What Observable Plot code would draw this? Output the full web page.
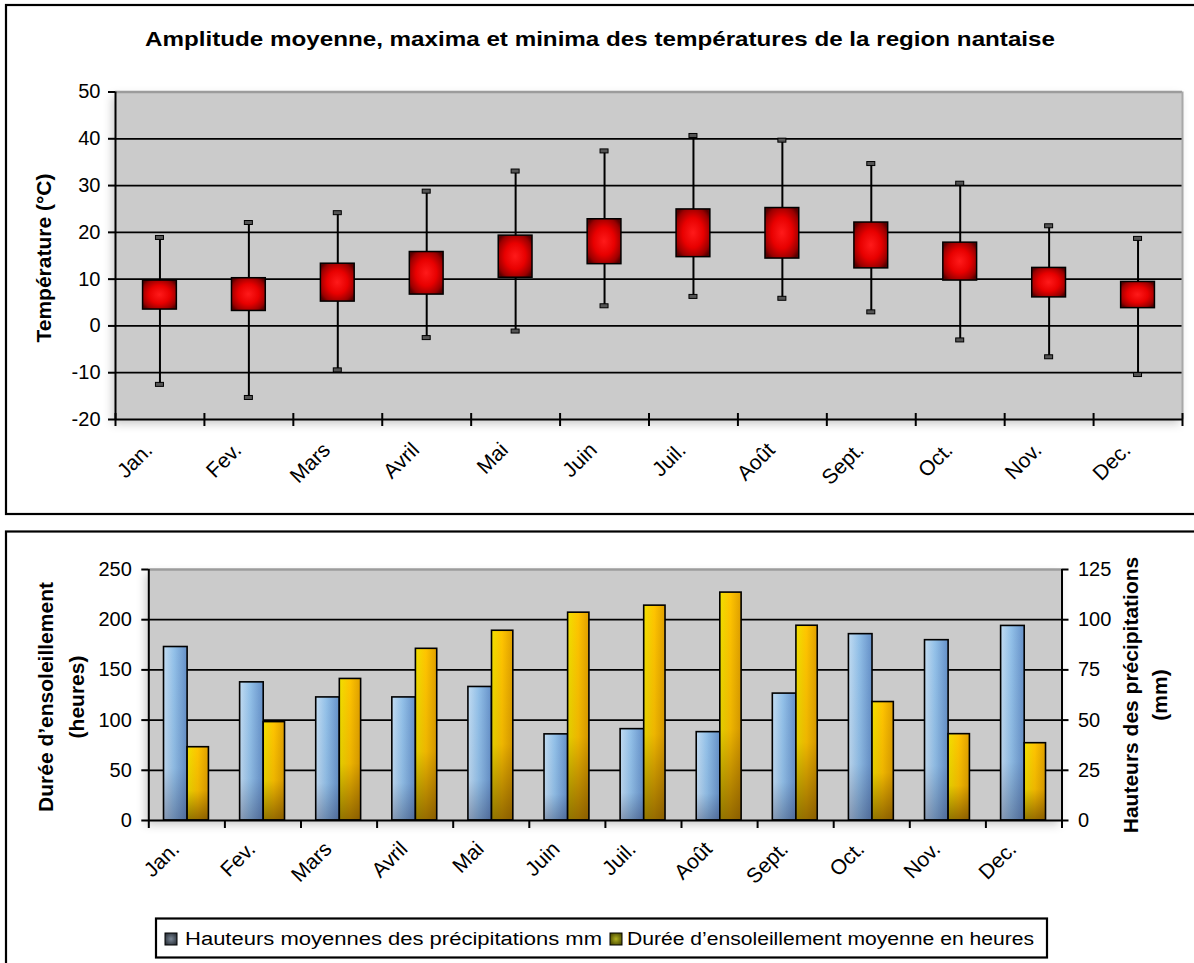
<!DOCTYPE html>
<html><head><meta charset="utf-8">
<script src="https://cdn.jsdelivr.net/npm/d3@7"></script>
<script src="https://cdn.jsdelivr.net/npm/@observablehq/plot@0.6"></script>
<style>
html,body{margin:0;padding:0;background:#fff;}
#wrap{position:relative;width:1194px;height:963px;overflow:hidden;font-family:"Liberation Sans",Arial,sans-serif;}
#wrap > svg{position:absolute;left:0;}
</style></head><body><div id="wrap"></div>
<script>
// ---- data ----
const months = ["Jan.","Fev.","Mars","Avril","Mai","Juin","Juil.","Août","Sept.","Oct.","Nov.","Dec."];
const tempMax = [18.8,22,24.1,28.7,33,37.3,40.6,39.6,34.6,30.4,21.3,18.6];
const tempMin = [-12.6,-15.4,-9.5,-2.6,-1.2,4.2,6.2,5.8,2.9,-3.1,-6.7,-10.5];
const boxHigh = [9.7,10.2,13.3,15.8,19.3,22.8,24.9,25.2,22.1,17.8,12.4,9.4];
const boxLow  = [3.5,3.2,5.2,6.7,10.3,13.2,14.7,14.4,12.3,9.7,6.1,3.8];
const tempTicks = [-20,-10,0,10,20,30,40,50];
const precipMm = [86.4,68.8,61.3,61.3,66.5,42.9,45.5,44,63.2,92.8,89.8,96.9];
const sunHours = [73,98,141,171,189,207,214,227,194,118,86,77];
const hourTicks = [0,50,100,150,200,250];
const mmTicks = [0,25,50,75,100,125];
const titleText = "Amplitude moyenne, maxima et minima des températures de la region nantaise";
const legendRain = "Hauteurs moyennes des précipitations mm";
const legendSun = "Durée d’ensoleillement moyenne en heures";

const hoursPerMm = hourTicks[hourTicks.length-1] / mmTicks[mmTicks.length-1];
const tempData = months.map((m,i)=>({i, m, max: tempMax[i], min: tempMin[i], hi: boxHigh[i], lo: boxLow[i]}));
const rainData = months.map((m,i)=>({i, m, mm: precipMm[i], h: sunHours[i]}));
const centers = months.map((m,i)=>i+0.5);
const bounds = d3.range(months.length+1);
const font = "'Liberation Sans', Arial, sans-serif";

const defs = `
<radialGradient id="redGrad" cx="50%" cy="50%" r="62%">
  <stop offset="0" stop-color="#ff1a1a"/><stop offset="0.5" stop-color="#e80000"/>
  <stop offset="0.85" stop-color="#9a0000"/><stop offset="1" stop-color="#5a0000"/>
</radialGradient>
<linearGradient id="blueGrad" x1="0" x2="1" y1="0" y2="0">
  <stop offset="0" stop-color="#c2dcf2"/><stop offset="0.45" stop-color="#92c0e8"/><stop offset="1" stop-color="#6590c8"/>
</linearGradient>
<linearGradient id="yellowGrad" x1="0" x2="1" y1="0" y2="0">
  <stop offset="0" stop-color="#f0e000"/><stop offset="0.5" stop-color="#ffc400"/><stop offset="1" stop-color="#e0a000"/>
</linearGradient>
<linearGradient id="blueShade" x1="0" x2="0" y1="0" y2="1">
  <stop offset="0" stop-color="#202040" stop-opacity="0"/><stop offset="0.7" stop-color="#202040" stop-opacity="0.05"/><stop offset="1" stop-color="#202040" stop-opacity="0.35"/>
</linearGradient>
<linearGradient id="yellowShade" x1="0" x2="0" y1="0" y2="1">
  <stop offset="0" stop-color="#503000" stop-opacity="0"/><stop offset="0.6" stop-color="#503000" stop-opacity="0.1"/><stop offset="1" stop-color="#503000" stop-opacity="0.6"/>
</linearGradient>
<radialGradient id="swRain" cx="50%" cy="50%" r="60%"><stop offset="0" stop-color="#7a8796"/><stop offset="1" stop-color="#2a3038"/></radialGradient>
<radialGradient id="swSun" cx="50%" cy="50%" r="60%"><stop offset="0" stop-color="#b0b020"/><stop offset="1" stop-color="#4a4a00"/></radialGradient>
`;
function finish(svg){
  d3.select(svg).insert("defs", ":first-child").html(defs);
  d3.select(svg).select('[aria-label="frame"]').style("filter","drop-shadow(-3px 4px 5px rgba(0,0,0,0.22))");
}

// ---- top chart ----
const topSvg = Plot.plot({
  width:1194, height:520, marginLeft:115, marginRight:12, marginTop:91.5, marginBottom:101,
  x:{domain:[0,12]}, y:{domain:[-20,50]},
  style:{background:"transparent", fontFamily:font, color:"#000", overflow:"visible"},
  marks:[
    Plot.frame({fill:"#cbcbcb"}),
    Plot.ruleY(tempTicks.filter(t=>t>-20&&t<50), {stroke:"#000", strokeWidth:1.8}),
    Plot.ruleY([50], {stroke:"#9c9c9c", strokeWidth:2.5}),
    Plot.ruleX([12], {stroke:"#a8a8a8", strokeWidth:2}),
    Plot.ruleX(tempData, {x:d=>d.i+0.5, y1:"min", y2:"max", stroke:"#000", strokeWidth:2}),
    Plot.rect(tempData, {x1:d=>d.i+0.455, x2:d=>d.i+0.545, y1:"max", y2:"max", insetTop:-2, insetBottom:-2, fill:"#555", stroke:"#000", strokeWidth:1}),
    Plot.rect(tempData, {x1:d=>d.i+0.455, x2:d=>d.i+0.545, y1:"min", y2:"min", insetTop:-2, insetBottom:-2, fill:"#555", stroke:"#000", strokeWidth:1}),
    Plot.rect(tempData, {x1:d=>d.i+0.31, x2:d=>d.i+0.69, y1:"lo", y2:"hi", fill:"url(#redGrad)", stroke:"#000", strokeWidth:1.5}),
    Plot.ruleX([0], {stroke:"#000", strokeWidth:2}),
    Plot.ruleY([-20], {stroke:"#000", strokeWidth:2}),
    Plot.ruleY(tempTicks, {x1:0, x2:0, insetLeft:-7, stroke:"#000", strokeWidth:2}),
    Plot.ruleX(bounds, {y1:-20, y2:-20, insetTop:-6, insetBottom:-7, stroke:"#000", strokeWidth:2}),
    Plot.axisY(tempTicks, {tickSize:0, tickPadding:15, fontSize:20, tickFormat:d=>String(d), label:null}),
    Plot.axisX(centers, {tickSize:0, tickPadding:14, tickRotate:-45, fontSize:21, dx:-11, dy:13, tickFormat:d=>months[Math.floor(d)], label:null})
  ]
});
finish(topSvg);
topSvg.style.top = "0px";

// ---- bottom chart ----
const botSvg = Plot.plot({
  width:1194, height:443, marginLeft:148.3, marginRight:132.5, marginTop:49, marginBottom:143,
  x:{domain:[0,12]}, y:{domain:[0,250]},
  style:{background:"transparent", fontFamily:font, color:"#000", overflow:"visible"},
  marks:[
    Plot.frame({fill:"#cbcbcb"}),
    Plot.ruleY(hourTicks.filter(t=>t>0&&t<250), {stroke:"#000", strokeWidth:1.8}),
    Plot.ruleY([250], {stroke:"#9c9c9c", strokeWidth:2.5}),
    Plot.rect(rainData, {x1:d=>d.i+0.2, x2:d=>d.i+0.51, y1:0, y2:d=>d.mm*hoursPerMm, fill:"url(#blueGrad)"}),
    Plot.rect(rainData, {x1:d=>d.i+0.2, x2:d=>d.i+0.51, y1:0, y2:d=>d.mm*hoursPerMm, fill:"url(#blueShade)", stroke:"#000", strokeWidth:1.6}),
    Plot.rect(rainData, {x1:d=>d.i+0.51, x2:d=>d.i+0.79, y1:0, y2:"h", fill:"url(#yellowGrad)"}),
    Plot.rect(rainData, {x1:d=>d.i+0.51, x2:d=>d.i+0.79, y1:0, y2:"h", fill:"url(#yellowShade)", stroke:"#000", strokeWidth:1.6}),
    Plot.ruleX([0, 12], {stroke:"#000", strokeWidth:2}),
    Plot.ruleY([0], {stroke:"#000", strokeWidth:2}),
    Plot.ruleY(hourTicks, {x1:0, x2:0, insetLeft:-7, stroke:"#000", strokeWidth:2}),
    Plot.ruleY(mmTicks.map(t=>t*hoursPerMm), {x1:12, x2:12, insetRight:-7, stroke:"#000", strokeWidth:2}),
    Plot.ruleX(bounds, {y1:0, y2:0, insetBottom:-8, stroke:"#000", strokeWidth:2}),
    Plot.axisY(hourTicks, {tickSize:0, tickPadding:17, fontSize:20, tickFormat:d=>String(d), label:null}),
    Plot.axisY(mmTicks.map(t=>t*hoursPerMm), {anchor:"right", tickSize:0, tickPadding:16, fontSize:20, tickFormat:d=>String(d/hoursPerMm), label:null}),
    Plot.axisX(centers, {tickSize:0, tickPadding:12, tickRotate:-45, fontSize:21, dx:-11, dy:13, tickFormat:d=>months[Math.floor(d)], label:null})
  ]
});
finish(botSvg);
botSvg.style.top = "520px";

const wrap = document.getElementById("wrap");
wrap.appendChild(topSvg);
wrap.appendChild(botSvg);

// ---- overlay: frames, titles, legend ----
const ov = d3.select(wrap).append("svg")
  .attr("width",1194).attr("height",963)
  .style("top","0px").style("pointer-events","none")
  .style("font-family", font);
ov.append("rect").attr("x",6).attr("y",5).attr("width",1260).attr("height",509)
  .attr("fill","none").attr("stroke","#000").attr("stroke-width",2.2);
ov.append("rect").attr("x",6).attr("y",531.5).attr("width",1260).attr("height",600)
  .attr("fill","none").attr("stroke","#000").attr("stroke-width",2.2);
ov.append("text").attr("x",145).attr("y",46).attr("font-size",21).attr("font-weight","bold")
  .attr("textLength",910).attr("lengthAdjust","spacingAndGlyphs").text(titleText);
ov.append("text").attr("transform","translate(51,258) rotate(-90)").attr("text-anchor","middle")
  .attr("font-size",21).attr("font-weight","bold").text("Température (°C)");
ov.append("text").attr("transform","translate(53,697) rotate(-90)").attr("text-anchor","middle")
  .attr("font-size",21).attr("font-weight","bold").text("Durée d’ensoleillement");
ov.append("text").attr("transform","translate(84,697) rotate(-90)").attr("text-anchor","middle")
  .attr("font-size",21).attr("font-weight","bold").text("(heures)");
ov.append("text").attr("transform","translate(1138,695) rotate(-90)").attr("text-anchor","middle")
  .attr("font-size",21).attr("font-weight","bold").text("Hauteurs des précipitations");
ov.append("text").attr("transform","translate(1167,695) rotate(-90)").attr("text-anchor","middle")
  .attr("font-size",21).attr("font-weight","bold").text("(mm)");
// legend
ov.append("rect").attr("x",156).attr("y",918.5).attr("width",891).attr("height",39)
  .attr("fill","#fff").attr("stroke","#000").attr("stroke-width",2.2);
ov.append("rect").attr("x",165).attr("y",933).attr("width",12).attr("height",12)
  .attr("fill","url(#swRain)").attr("stroke","#000").attr("stroke-width",1);
ov.append("text").attr("x",185).attr("y",945).attr("font-size",18)
  .attr("textLength",417).attr("lengthAdjust","spacingAndGlyphs").text(legendRain);
ov.append("rect").attr("x",610).attr("y",933).attr("width",12).attr("height",12)
  .attr("fill","url(#swSun)").attr("stroke","#000").attr("stroke-width",1);
ov.append("text").attr("x",627).attr("y",945).attr("font-size",18)
  .attr("textLength",407).attr("lengthAdjust","spacingAndGlyphs").text(legendSun);
</script></body></html>
